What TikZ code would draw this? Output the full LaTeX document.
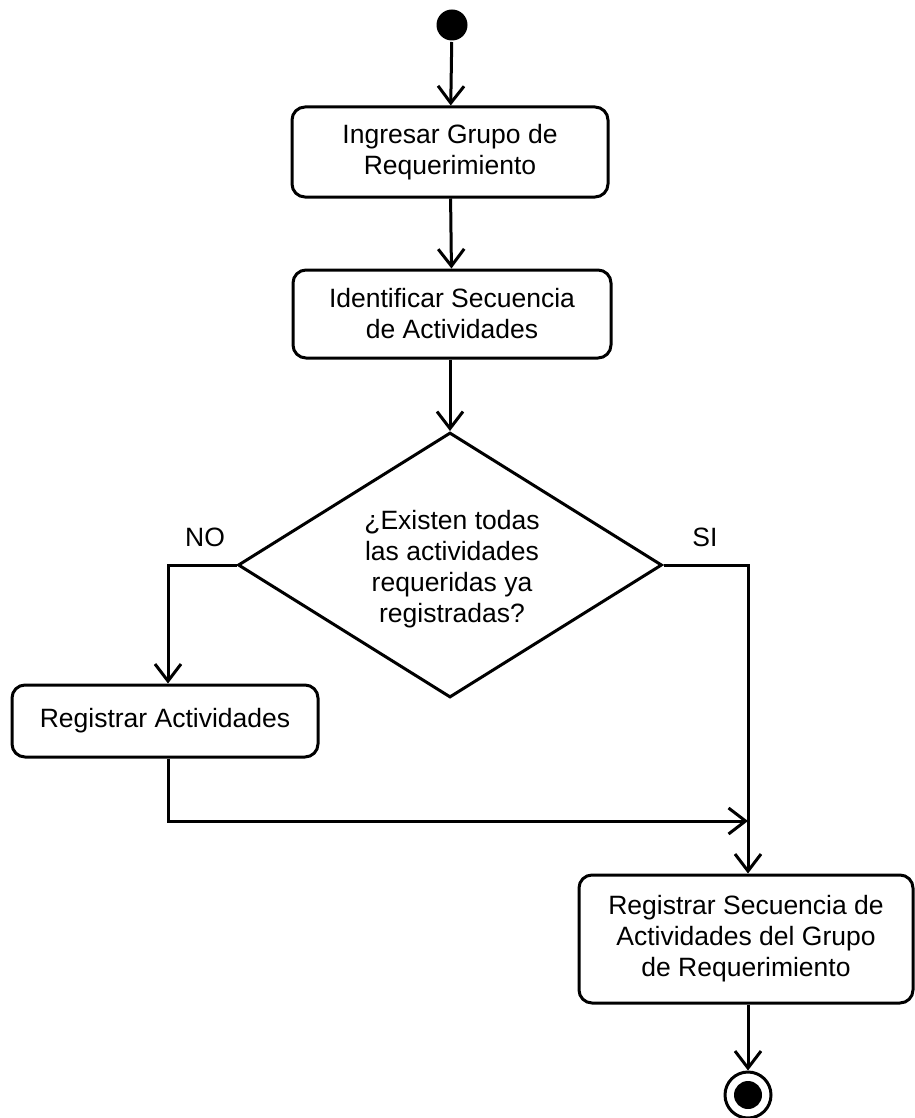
\documentclass[tikz,border=0pt]{standalone}
\usepackage{fontspec}
\setmainfont{Liberation Sans}
\usetikzlibrary{arrows.meta,shapes.geometric}
\begin{document}
\begin{tikzpicture}[x=1pt,y=-1pt,
  line width=3pt,
  flow/.style={-{Straight Barb[length=17pt,width=26pt,line width=3pt]}},
  txt/.style={font=\fontsize{26.5}{31}\selectfont},
  act/.style={draw,rounded corners=13pt,align=center,txt,inner sep=0pt},
  lbl/.style={txt,inner sep=0pt}]
\useasboundingbox (0,0) rectangle (914,1118);
% start and end states
\node[circle,fill=black,minimum size=31pt,inner sep=0pt] (start) at (452,25) {};
\node[circle,draw,line width=3pt,minimum size=46pt,inner sep=0pt] (stop) at (748,1095) {};
\fill (stop.center) circle (14pt);
% activities
\node[act,minimum width=316pt,minimum height=90pt] (ing) at (450,152) {Ingresar Grupo de\\Requerimiento};
\node[act,minimum width=318pt,minimum height=88pt] (ide) at (452,314) {Identificar Secuencia\\de Actividades};
\node[diamond,draw,aspect=1.6,minimum width=424pt,minimum height=265pt,inner sep=0pt] (dec) at (450,565) {};
\node[lbl,align=center] (q) at (452,569) {¿Existen todas\\las actividades\\requeridas ya\\registradas?};
\node[act,minimum width=306pt,minimum height=72pt] (reg) at (165,721) {Registrar Actividades};
\node[act,minimum width=334pt,minimum height=128pt] (sec) at (746,939) {Registrar Secuencia de\\Actividades del Grupo\\de Requerimiento};
% branch labels
\node[lbl] (no) at (205,537) {NO};
\node[lbl] (si) at (705,537) {SI};
% junction points
\coordinate (nol) at (168,565);
\coordinate (sir) at (748,565);
\coordinate (mrg) at (748,821);
\coordinate (regb) at (168,757);
% connectors
\draw[flow] (start) -- (ing);
\draw[flow] (ing) -- (ide);
\draw[flow] (ide.south -| dec.north) -- (dec.north);
\draw[flow] (dec.west) -- (nol) -- (reg.north -| nol);
\draw (dec.east) -- (sir) -- (mrg);
\draw[flow] (reg.south -| regb) -- (regb |- mrg) -- (mrg);
\draw[flow] (mrg) -- (sec.north -| mrg);
\draw[flow] (sec.south -| stop) -- (stop);
\end{tikzpicture}
\end{document}
